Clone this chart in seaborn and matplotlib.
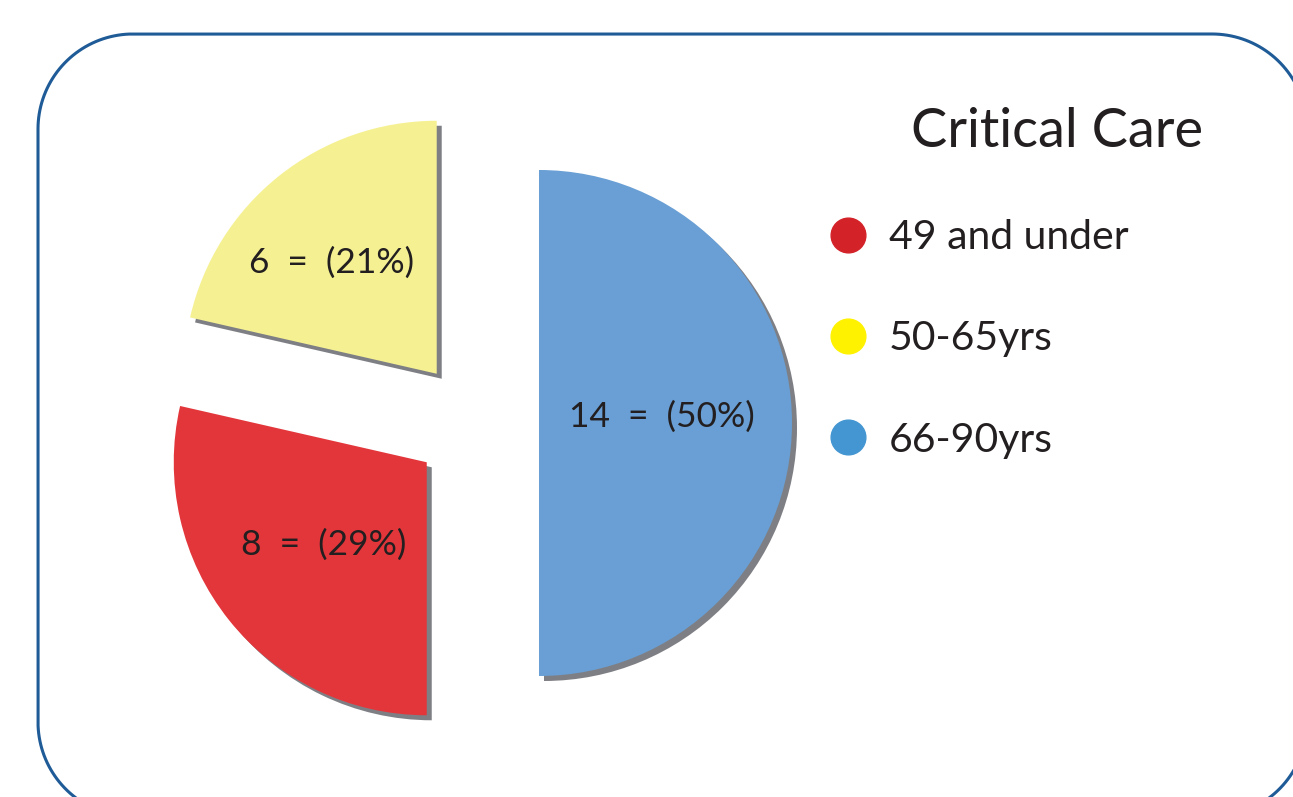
import numpy as np
import matplotlib.pyplot as plt
import seaborn as sns
from matplotlib.lines import Line2D

# data
groups = ['49 and under', '50-65yrs', '66-90yrs']
counts = [8, 6, 14]
wedge_colors = ['#e3363b', '#f5f193', '#699fd4']
legend_colors = ['#d42229', '#fff200', '#4396d2']
title = 'Critical Care'

sns.set_style('white')
plt.rcParams['font.family'] = ['Lato', 'DejaVu Sans']

W, H = 1293, 797
fig = plt.figure(figsize=(W / 100, H / 100), dpi=100)
ax = fig.add_axes([0, 0, 1, 1])

total = sum(counts)


def fmt(pct):
    n = int(round(pct * total / 100))
    return f'{n}  =  ({pct:.0f}%)'


def rounded_rect(x0, y0, x1, y1, r, n=40):
    # outline of a rounded box as a polyline
    xs, ys = [], []
    corners = [(x1 - r, y1 - r, 0), (x0 + r, y1 - r, 90), (x0 + r, y0 + r, 180), (x1 - r, y0 + r, 270)]
    for cx, cy, a0 in corners:
        t = np.radians(np.linspace(a0, a0 + 90, n))
        xs.extend(cx + r * np.cos(t))
        ys.extend(cy + r * np.sin(t))
    xs.append(xs[0])
    ys.append(ys[0])
    return xs, ys


radius = 253
shade = '#7e7f84'
wedges, _, autotexts = ax.pie(
    counts, colors=wedge_colors, explode=[0.249 * radius] * 3, radius=radius,
    center=(476, H - 423), startangle=-90, counterclock=False,
    autopct=fmt, pctdistance=0.52, frame=True,
    wedgeprops={'linewidth': 0},
    shadow={'ox': 3.6, 'oy': -3.6, 'facecolor': shade, 'edgecolor': shade, 'alpha': 1},
    textprops={'fontsize': 25.5, 'color': '#231f20'})

# small nudges so the labels sit where they do in the original
for txt, (dx, dy) in zip(autotexts, [(0, 0), (-23, 8), (-9, 6)]):
    x, y = txt.get_position()
    txt.set_position((x + dx, y + dy))

# rounded frame around the whole thing (runs off the right / bottom edge)
bx, by = rounded_rect(38, H - 817, 1307, H - 34, 95)
ax.plot(bx, by, color='#1f5b97', lw=2.2)

ax.text(1057, H - 147, title, ha='center', va='baseline', fontsize=39, color='#231f20')

handles = [Line2D([], [], ls='', marker='o', ms=25, mfc=c, mec=c) for c in legend_colors]
ax.legend(handles, groups, loc='upper left', bbox_to_anchor=(830 / W, 1 - 219 / H),
          frameon=False, fontsize=29.5, handlelength=0.86, handletextpad=0.58,
          labelspacing=1.57, borderpad=0, borderaxespad=0, labelcolor='#231f20')

ax.set_xlim(0, W)
ax.set_ylim(0, H)
ax.set_aspect('auto')
ax.axis('off')

fig.savefig('out.png', dpi=100)
